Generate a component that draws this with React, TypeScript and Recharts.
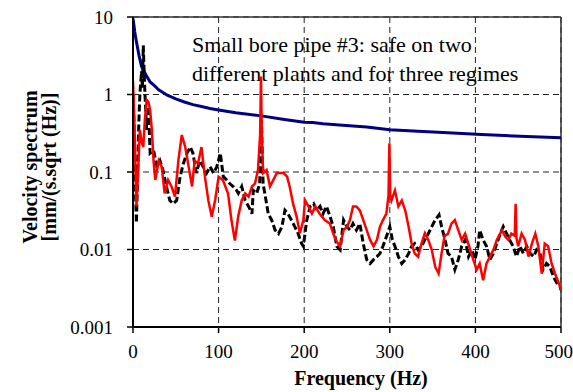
import React from 'react';
import { LineChart, Line, XAxis, YAxis, CartesianGrid, ReferenceLine, Customized } from 'recharts';

// Limit (safe) curve
const limitFreq = [0, 1, 2, 3, 5, 7, 10, 15, 20, 25, 30, 40, 50, 60, 70, 80, 90, 100, 120, 150, 175, 200, 210, 222, 245, 273, 300, 333, 368, 407, 452, 500];
const limitVel = [9.5, 8.0, 6.5, 5.5, 4.2, 3.2, 2.3, 1.8, 1.45, 1.3, 1.15, 0.98, 0.88, 0.8, 0.74, 0.7, 0.66, 0.63, 0.58, 0.53, 0.48, 0.44, 0.435, 0.42, 0.4, 0.38, 0.35, 0.335, 0.32, 0.305, 0.29, 0.277];

// Plant A spectrum (red)
const plantAFreq = [0, 2, 4, 6, 8, 10, 12, 14, 16, 18, 20, 22, 24, 26, 30, 33.5, 37, 41, 45, 49, 53, 57, 61, 65, 69, 72, 76, 80, 84, 88, 92, 96, 100, 105, 111, 115, 119, 123, 127, 131, 135, 139, 142.5, 146, 148.5, 149.5, 150.5, 152, 156, 160, 164, 168, 172, 176, 180, 183, 187, 191, 195, 199, 201, 205, 209, 213, 218, 224, 230, 234, 238, 242, 246, 250, 253.5, 257, 261, 265, 269, 273, 277, 281, 285, 288.5, 292, 296, 298.5, 299.5, 300.5, 302, 306, 310, 314, 318, 322, 325.5, 329, 333, 337, 341, 345, 349, 353, 357, 360.5, 364, 368, 372, 376, 380, 384, 388, 394, 397.5, 401.5, 405, 409, 413, 417, 421, 425, 431, 435, 438.5, 442, 446, 447, 448, 450, 454, 458, 462, 466, 470, 473.5, 477.5, 481, 485, 489, 493, 499, 500];
const plantAVel = [1.5, 0.3, 0.036, 0.1, 0.35, 0.25, 0.21, 0.5, 0.85, 0.8, 0.63, 0.35, 0.14, 0.079, 0.14, 0.117, 0.053, 0.079, 0.065, 0.048, 0.14, 0.3, 0.21, 0.117, 0.065, 0.14, 0.13, 0.21, 0.087, 0.043, 0.0265, 0.0435, 0.087, 0.079, 0.053, 0.024, 0.013, 0.027, 0.043, 0.053, 0.048, 0.065, 0.071, 0.106, 0.3, 1.7, 0.3, 0.097, 0.106, 0.065, 0.079, 0.097, 0.097, 0.097, 0.087, 0.065, 0.039, 0.027, 0.0162, 0.024, 0.043, 0.036, 0.029, 0.036, 0.029, 0.024, 0.0216, 0.016, 0.0126, 0.011, 0.0178, 0.0197, 0.024, 0.036, 0.036, 0.032, 0.024, 0.0178, 0.0133, 0.011, 0.0133, 0.0197, 0.024, 0.029, 0.05, 0.234, 0.05, 0.043, 0.058, 0.036, 0.043, 0.032, 0.0197, 0.0119, 0.0089, 0.0081, 0.0119, 0.0162, 0.0133, 0.0099, 0.006, 0.0049, 0.0089, 0.015, 0.016, 0.0216, 0.024, 0.0178, 0.0133, 0.016, 0.0099, 0.0074, 0.0055, 0.0066, 0.004, 0.0066, 0.0081, 0.0099, 0.0133, 0.0178, 0.0146, 0.0133, 0.016, 0.015, 0.039, 0.014, 0.011, 0.016, 0.0133, 0.0081, 0.0119, 0.016, 0.011, 0.0049, 0.0119, 0.011, 0.0066, 0.0049, 0.0033, 0.003];

// Plant B spectrum (black dashed)
const plantBFreq = [0, 1, 2, 3, 4, 5, 6, 7, 8, 10, 11, 12, 13, 14, 16, 18, 20, 24, 28, 31.5, 35, 39, 43, 47, 51, 55, 59, 63, 67, 70, 74, 78, 82, 86, 90, 94, 98, 102, 105.5, 109.5, 113, 117, 121, 123, 127, 131, 135, 139, 140.5, 144.5, 148, 150, 152, 154, 158, 162, 166, 170, 174, 177.5, 181, 185, 189, 193, 197, 199, 203, 207, 211, 214.5, 218.5, 222, 226, 230, 234, 238, 242, 246, 250, 253.5, 257, 261, 265, 269, 273, 277, 281, 285, 288.5, 292, 296, 300, 303, 306, 310, 314, 318, 322, 325.5, 329, 333, 337, 341, 345, 349, 353, 357.5, 360.5, 364.5, 368, 372, 376, 380, 384, 388, 392, 396, 399.5, 403, 405, 409, 413, 417, 421, 425, 429, 432.5, 436.5, 440, 444, 448, 452, 456, 460, 464, 468, 471.5, 475.5, 479, 483, 487, 491, 495, 499, 500];
const plantBVel = [1.0, 0.5, 0.15, 0.05, 0.022, 0.06, 0.2, 0.5, 1.0, 2.0, 1.2, 4.3, 2.0, 1.0, 0.35, 0.7, 0.175, 0.19, 0.117, 0.14, 0.106, 0.065, 0.043, 0.039, 0.043, 0.087, 0.13, 0.175, 0.21, 0.175, 0.097, 0.14, 0.117, 0.097, 0.117, 0.097, 0.117, 0.175, 0.087, 0.079, 0.071, 0.065, 0.058, 0.053, 0.065, 0.043, 0.036, 0.029, 0.058, 0.053, 0.071, 0.47, 0.07, 0.053, 0.029, 0.024, 0.0178, 0.016, 0.0197, 0.032, 0.029, 0.024, 0.0197, 0.016, 0.0119, 0.011, 0.024, 0.036, 0.039, 0.032, 0.036, 0.029, 0.036, 0.027, 0.0197, 0.011, 0.0099, 0.024, 0.0197, 0.0178, 0.0216, 0.0178, 0.0216, 0.0119, 0.0074, 0.0066, 0.0074, 0.0081, 0.0089, 0.011, 0.0146, 0.0197, 0.0133, 0.011, 0.0081, 0.0066, 0.0074, 0.0089, 0.011, 0.0119, 0.0099, 0.011, 0.0133, 0.016, 0.0197, 0.024, 0.028, 0.0197, 0.0133, 0.0089, 0.0081, 0.0055, 0.0074, 0.011, 0.0133, 0.0081, 0.0099, 0.0074, 0.011, 0.0178, 0.0133, 0.011, 0.0074, 0.0089, 0.0119, 0.016, 0.0197, 0.016, 0.0133, 0.011, 0.0081, 0.011, 0.0089, 0.011, 0.0089, 0.0081, 0.0099, 0.0089, 0.0055, 0.0066, 0.006, 0.0045, 0.0037, 0.0033, 0.003];

const xTicks = [0, 100, 200, 300, 400, 500];
const yTicks = [0.001, 0.01, 0.1, 1, 10];
const yTickLabels = ['0.001', '0.01', '0.1', '1', '10'];

const xTitle = 'Frequency (Hz)';
const yTitle1 = 'Velocity spectrum';
const yTitle2 = '[mm/(s.sqrt (Hz)]';
const note1 = 'Small bore pipe #3: safe on two';
const note2 = 'different plants and for three regimes';

const limitData = limitFreq.map((f, i) => ({ f, v: limitVel[i] }));
const plantAData = plantAFreq.map((f, i) => ({ f, v: plantAVel[i] }));
const plantBData = plantBFreq.map((f, i) => ({ f, v: plantBVel[i] }));

const FONT = 'Liberation Serif, Times New Roman, DejaVu Serif, serif';
const txt = (size: number, bold = false): React.CSSProperties => ({ fontFamily: FONT, fontSize: size, fontWeight: bold ? 700 : 400, fill: '#000' });

const Texts = () => (
  <g>
    <text x={192} y={52} style={txt(22)}>{note1}</text>
    <text x={192} y={81} style={txt(22)}>{note2}</text>
    <text x={361} y={385} style={txt(20, true)} textAnchor="middle">{xTitle}</text>
    <text x={37} y={167} style={txt(20, true)} textAnchor="middle" transform="rotate(-90 37 167)">{yTitle1}</text>
    <text x={56} y={167} style={txt(20, true)} textAnchor="middle" transform="rotate(-90 56 167)">{yTitle2}</text>
  </g>
);

const tickStyle = { fill: '#000', fontSize: 19, fontFamily: FONT, style: { fontFamily: FONT } } as any;

export default function App() {
  return (
    <div style={{ position: 'absolute', left: 0, top: 0, width: 573, height: 392, background: '#fff', fontFamily: FONT }}>
      <LineChart width={573} height={392} margin={{ top: 17, right: 12, left: 0, bottom: 0 }} style={{ fontFamily: FONT }}>
        <CartesianGrid stroke="#222" strokeDasharray="6 4" strokeWidth={1} />
        <XAxis
          dataKey="f"
          type="number"
          domain={[0, 500]}
          ticks={xTicks}
          allowDataOverflow
          height={65}
          tickSize={6}
          tickMargin={12}
          axisLine={{ stroke: '#000', strokeWidth: 2 }}
          tickLine={{ stroke: '#000', strokeWidth: 1.5 }}
          tick={tickStyle}
        />
        <YAxis
          type="number"
          scale="log"
          domain={[0.001, 10]}
          ticks={yTicks}
          allowDataOverflow
          width={133}
          tickSize={6}
          tickMargin={14}
          tickFormatter={(v: number) => yTickLabels[yTicks.indexOf(v)] ?? String(v)}
          axisLine={{ stroke: '#000', strokeWidth: 2 }}
          tickLine={{ stroke: '#000', strokeWidth: 1.5 }}
          tick={tickStyle}
        />
        <ReferenceLine y={10} stroke="#333" strokeWidth={1.5} />
        <ReferenceLine x={500} stroke="#333" strokeWidth={1.5} />
        <Line data={limitData} dataKey="v" type="linear" stroke="#000080" strokeWidth={3} dot={false} isAnimationActive={false} />
        <Line data={plantBData} dataKey="v" type="linear" stroke="#000" strokeWidth={3} strokeDasharray="7 3" dot={false} isAnimationActive={false} />
        <Line data={plantAData} dataKey="v" type="linear" stroke="#ff0000" strokeWidth={2.5} dot={false} isAnimationActive={false} />
        <Customized component={Texts} />
      </LineChart>
    </div>
  );
}
